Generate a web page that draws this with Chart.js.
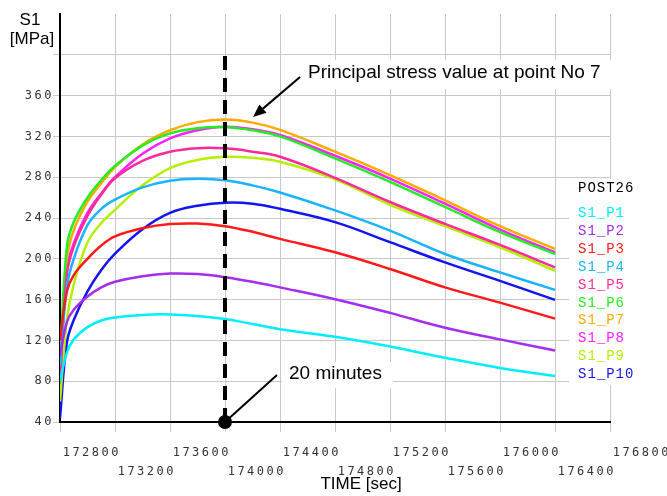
<!DOCTYPE html>
<html>
<head>
<meta charset="utf-8">
<script src="https://cdn.jsdelivr.net/npm/chart.js@4.4.1/dist/chart.umd.min.js"></script>
<style>body{margin:0;background:#fff}</style>
</head>
<body>
<canvas id="myChart" width="667" height="496"></canvas>
<script>
// time [sec]
const times = [172400, 172450, 172500, 172600, 172700, 172800, 173000, 173200, 173400, 173600, 173800, 174000, 174400, 174800, 175200, 175600, 176000];

// principal stress S1 [MPa] per point
const s1P1 = [80, 108, 121, 133, 139.5, 142.5, 145, 145.5, 144, 141, 136, 131, 123.5, 114, 103, 93, 85];
const s1P2 = [105, 138, 150, 163, 172, 177.5, 183, 185.5, 185, 182, 177.5, 172, 160.4, 147, 132.4, 121, 110];
const s1P3 = [120, 168, 184, 200, 213, 222, 230, 234, 234.5, 232, 226.5, 219.5, 206.4, 190, 172, 157, 141.3];
const s1P4 = [95, 172, 200, 233, 249, 258, 270, 276.5, 278.5, 277, 272, 265, 247.5, 227.7, 204.7, 186.7, 169.5];
const s1P5 = [80, 185, 212, 242, 263, 279, 296, 305, 308.5, 308.3, 305, 300, 279.4, 255.7, 234.3, 213.6, 191.6];
const s1P6 = [100, 212, 236, 260, 277, 291, 311, 323, 328, 329, 326, 320, 298.5, 275.5, 250.8, 226.1, 204.7];
const s1P7 = [90, 200, 228, 256, 274, 290, 312, 326, 334, 336.5, 333.5, 326.4, 305, 282, 257.3, 232, 209.7];
const s1P8 = [85, 190, 215, 245, 264, 280, 303, 318, 326, 329.5, 327, 321.4, 301, 278.7, 254, 228.7, 206.4];
const s1P9 = [60, 140, 175, 216, 235, 248, 272, 289, 297, 300, 299, 295.2, 278, 253, 232, 211.3, 188.3];
const s1P10 = [44, 118, 140, 168, 189, 205, 229, 245, 252, 255, 254, 249, 236, 216.3, 196.5, 178.4, 159.7];

const seriesNames = ['S1_P1', 'S1_P2', 'S1_P3', 'S1_P4', 'S1_P5', 'S1_P6', 'S1_P7', 'S1_P8', 'S1_P9', 'S1_P10'];
const seriesValues = [s1P1, s1P2, s1P3, s1P4, s1P5, s1P6, s1P7, s1P8, s1P9, s1P10];
const seriesColors = ['#00eeff', '#a52cf0', '#ff1a1a', '#19b4ff', '#ff2a9a', '#22ee22', '#ffaa00', '#ff22ff', '#b4f000', '#1414f0'];

const xTickLabels = [172800, 173200, 173600, 174000, 174400, 174800, 175200, 175600, 176000, 176400, 176800];
const yTickLabels = [40, 80, 120, 160, 200, 240, 280, 320, 360];
const xGrid = [172400, 172800, 173200, 173600, 174000, 174400, 174800, 175200, 175600, 176000, 176400];
const yGrid = [40, 80, 120, 160, 200, 240, 280, 320, 360, 400];

// annotation anchors in data units
const markTime = 173600;
const markTop = 400;

const datasets = seriesNames.map((name, i) => ({
    label: name,
    data: times.map((t, j) => ({x: t, y: seriesValues[i][j]})),
    borderColor: seriesColors[i],
    backgroundColor: seriesColors[i],
    borderWidth: 2.5,
    pointRadius: 0,
    tension: 0.4,
    fill: false
}));

const overlay = {
    id: 'overlay',
    afterDraw(chart) {
        const ctx = chart.ctx;
        const xs = chart.scales.x, ys = chart.scales.y;
        ctx.save();

        // tick labels
        ctx.font = '12px "DejaVu Sans Mono"';
        ctx.letterSpacing = '2.5px';
        ctx.fillStyle = '#333';
        ctx.textBaseline = 'middle';
        ctx.textAlign = 'right';
        yTickLabels.forEach(v => ctx.fillText(String(v), 54, ys.getPixelForValue(v)));
        xTickLabels.forEach((v, i) => {
            ctx.fillText(String(v), xs.getPixelForValue(v) + 6, i % 2 === 0 ? 453 : 472);
        });
        ctx.letterSpacing = '0px';

        // axis titles
        ctx.fillStyle = '#000';
        ctx.font = '17px "Liberation Sans", Arial';
        ctx.textAlign = 'center';
        ctx.fillText('S1', 30, 20);
        ctx.fillText('[MPa]', 32, 39);
        ctx.fillText('TIME [sec]', 361, 484);

        // 20 minutes marker
        const mx = xs.getPixelForValue(markTime);
        const my = ys.getPixelForValue(40);
        ctx.strokeStyle = '#000';
        ctx.lineWidth = 4;
        ctx.setLineDash([14, 8]);
        ctx.beginPath();
        ctx.moveTo(mx, my);
        ctx.lineTo(mx, ys.getPixelForValue(markTop));
        ctx.stroke();
        ctx.setLineDash([]);
        ctx.lineWidth = 2;
        ctx.beginPath();
        ctx.moveTo(mx, my);
        ctx.lineTo(mx + 52, my - 47);
        ctx.stroke();
        ctx.beginPath();
        ctx.arc(mx, my, 7, 0, Math.PI * 2);
        ctx.fill();
        ctx.fillStyle = '#fff';
        ctx.fillRect(mx + 57, my - 60, 111, 26);
        ctx.fillStyle = '#000';
        ctx.font = '19px "Liberation Sans", Arial';
        ctx.textAlign = 'left';
        ctx.fillText('20 minutes', mx + 64, my - 48);

        // point 7 callout
        const tx = xs.getPixelForValue(173804);
        const ty = ys.getPixelForValue(337) - 2;
        const sx = tx + 47, sy = ty - 40;
        ctx.fillStyle = '#fff';
        ctx.fillRect(sx + 2, sy - 17, 310, 29);
        ctx.fillStyle = '#000';
        ctx.fillText('Principal stress value at point No 7', sx + 8, sy - 4);
        const ang = Math.atan2(ty - sy, tx - sx);
        const hl = 13, hw = 5.5;
        const bx = tx - hl * Math.cos(ang), by = ty - hl * Math.sin(ang);
        ctx.beginPath();
        ctx.moveTo(sx, sy);
        ctx.lineTo(bx, by);
        ctx.stroke();
        ctx.beginPath();
        ctx.moveTo(tx, ty);
        ctx.lineTo(bx + hw * Math.sin(ang), by - hw * Math.cos(ang));
        ctx.lineTo(bx - hw * Math.sin(ang), by + hw * Math.cos(ang));
        ctx.closePath();
        ctx.fill();

        // legend
        ctx.fillStyle = '#fff';
        ctx.fillRect(569, 179, 98, 206);
        ctx.font = '14px "Liberation Mono", monospace';
        ctx.letterSpacing = '1px';
        ctx.textBaseline = 'middle';
        ctx.fillStyle = '#000';
        ctx.fillText('POST26', 578, 188);
        seriesNames.forEach((name, i) => {
            ctx.fillStyle = seriesColors[i];
            ctx.fillText(name, 578, 213.3 + i * 17.9);
        });
        ctx.restore();
    }
};

var ctx = document.getElementById('myChart').getContext('2d');
var myChart = new Chart(ctx, {
    type: 'line',
    data: {datasets: datasets},
    options: {
        responsive: false,
        animation: false,
        layout: {padding: {top: 14, right: 57, left: 0, bottom: 0}},
        plugins: {legend: {display: false}, tooltip: {enabled: false}},
        scales: {
            x: {
                type: 'linear',
                min: 172400,
                max: 176400,
                afterBuildTicks: s => { s.ticks = xGrid.map(v => ({value: v})); },
                afterFit: s => { s.height = 74; },
                ticks: {display: false},
                grid: {color: '#c8c8c8', lineWidth: 1, tickLength: 10, tickColor: '#c8c8c8'},
                border: {color: '#000', width: 2}
            },
            y: {
                type: 'linear',
                min: 40,
                max: 440,
                afterBuildTicks: s => { s.ticks = yGrid.map(v => ({value: v})); },
                afterFit: s => { s.width = 60; },
                ticks: {display: false},
                grid: {color: '#c8c8c8', lineWidth: 1, tickLength: 7, tickColor: '#c8c8c8'},
                border: {color: '#000', width: 2}
            }
        }
    },
    plugins: [overlay]
});
</script>
</body>
</html>
